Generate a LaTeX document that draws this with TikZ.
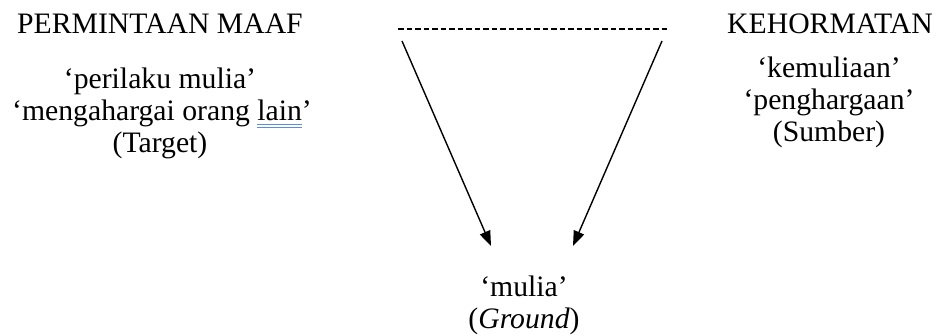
\documentclass[tikz,border=0pt]{standalone}
\usepackage{fontspec}
\setmainfont{Liberation Serif}
\usepackage{xcolor}
\usepackage{tikz}
\usetikzlibrary{arrows.meta,positioning}
\definecolor{spellblue}{HTML}{5B8BE6}
\newcommand\spellmark[1]{\setbox0\hbox{#1}%
  \rlap{\color{spellblue}\rule[-4.5pt]{\wd0}{1pt}\hspace{-\wd0}\rule[-7pt]{\wd0}{1pt}}\box0}
\tikzset{
  arr/.style={-{Triangle[length=15pt,width=11pt]},line width=1.4pt},
  dline/.style={line width=1.3pt,dash pattern=on 5.5pt off 3pt},
  word/.style={inner sep=0pt,anchor=base,font=\fontsize{29.7}{33}\selectfont},
}
\begin{document}
\begin{tikzpicture}[x=1pt,y=-1pt,node distance=0pt]
\useasboundingbox (0,0) rectangle (938,336);

% source and target domains
\node[word] (maaf) at (160,34) {PERMINTAAN MAAF};
\node[word] (maaf1) at (160,89) {‘perilaku mulia’};
\node[word] (maaf2) at (162,121) {‘mengahargai orang \spellmark{lain}’};
\node[word] (maaf3) at (160,153) {(Target)};

\node[word] (hormat) at (830,34) {KEHORMATAN};
\node[word] (hormat1) at (829,78) {‘kemuliaan’};
\node[word] (hormat2) at (829,110) {‘penghargaan’};
\node[word] (hormat3) at (829,142) {(Sumber)};

% ground
\node[word] (mulia) at (524,297) {‘mulia’};
\node[word] (ground) at (524,329) {(\textit{Ground})};

\coordinate (dl) at (398,29);
\coordinate (dr) at (668,29);
\coordinate (la) at (402,41);
\coordinate (lb) at (491,246);
\coordinate (ra) at (662,41);
\coordinate (rb) at (573,246);

\draw[dline] (dl) -- (dr);
\draw[arr] (la) -- (lb);
\draw[arr] (ra) -- (rb);
\end{tikzpicture}
\end{document}
